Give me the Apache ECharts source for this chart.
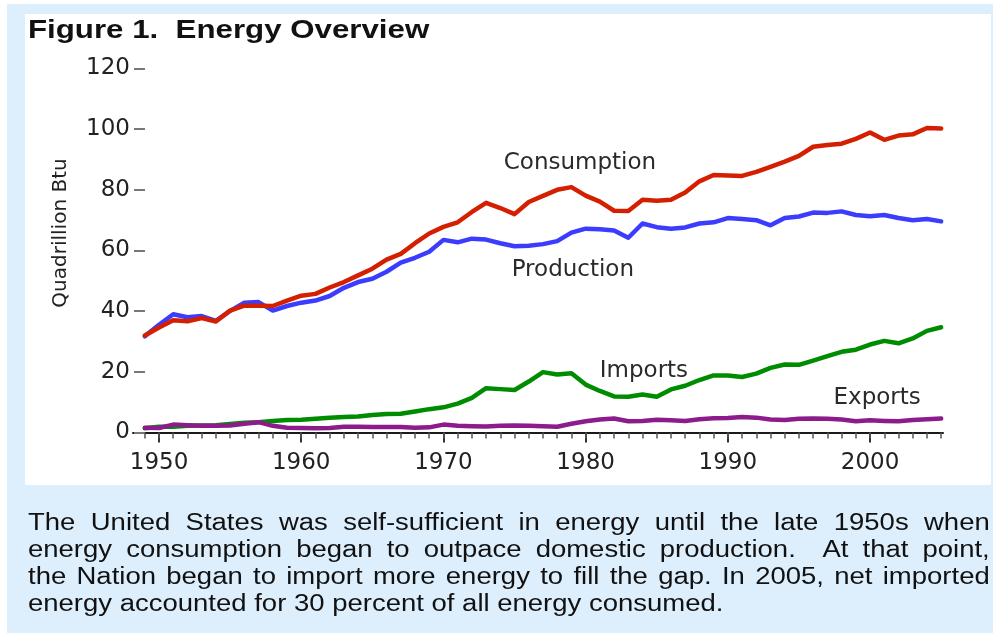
<!DOCTYPE html>
<html>
<head>
<meta charset="utf-8">
<script src="https://cdn.jsdelivr.net/npm/echarts@6/dist/echarts.min.js"></script>
<style>
  html, body { margin: 0; padding: 0; background: #ffffff; }
  #wrap { position: relative; width: 993px; height: 633px; overflow: hidden; background: #ffffff; }
  #panel { position: absolute; left: 7px; top: 4px; width: 986px; height: 629px; background: #ddeefc; }
  #inner { position: absolute; left: 25px; top: 14px; width: 966px; height: 471px; background: #ffffff; }
  #chart { position: absolute; left: 0; top: 0; width: 993px; height: 633px; }
  #caption { position: absolute; left: 28px; top: 509px; width: 822px;
    transform: scaleX(1.17); transform-origin: 0 0;
    font-family: "Liberation Sans", Arial, sans-serif; font-size: 23.5px; line-height: 27px; color: #111; }
  #caption div { text-align: justify; text-align-last: justify; white-space: nowrap; }
  #caption div.last { text-align: left; text-align-last: left; }
</style>
</head>
<body>
<div id="wrap">
  <div id="panel"></div>
  <div id="inner"></div>
  <div id="chart"></div>
  <div id="caption">
    <div>The United States was self-sufficient in energy until the late 1950s when</div>
    <div>energy consumption began to outpace domestic production.&nbsp; At that point,</div>
    <div>the Nation began to import more energy to fill the gap. In 2005, net imported</div>
    <div class="last">energy accounted for 30 percent of all energy consumed.</div>
  </div>
</div>
<script>
const years = [1949,1950,1951,1952,1953,1954,1955,1956,1957,1958,1959,
  1960,1961,1962,1963,1964,1965,1966,1967,1968,1969,
  1970,1971,1972,1973,1974,1975,1976,1977,1978,1979,
  1980,1981,1982,1983,1984,1985,1986,1987,1988,1989,
  1990,1991,1992,1993,1994,1995,1996,1997,1998,1999,
  2000,2001,2002,2003,2004,2005];

const production = [31.7,35.5,39.0,38.0,38.4,36.8,40.1,42.8,43.0,40.2,41.7,
  42.8,43.5,45.0,47.7,49.6,50.7,53.0,56.0,57.6,59.6,
  63.5,62.7,63.9,63.6,62.4,61.4,61.6,62.1,63.1,65.9,
  67.2,67.0,66.6,64.2,68.9,67.7,67.2,67.6,68.9,69.3,
  70.7,70.4,70.0,68.3,70.7,71.2,72.5,72.4,72.9,71.7,
  71.3,71.7,70.7,70.0,70.4,69.6];

const consumption = [32.0,34.6,37.0,36.7,37.7,36.6,40.2,41.8,41.8,41.7,43.5,
  45.1,45.7,47.8,49.6,51.8,54.0,57.0,58.9,62.4,65.6,
  67.8,69.3,72.7,75.7,74.0,72.0,76.0,78.0,80.0,80.9,
  78.1,76.1,73.1,73.0,76.7,76.4,76.7,79.1,82.8,84.9,
  84.7,84.6,85.9,87.6,89.3,91.2,94.2,94.8,95.2,96.8,
  98.9,96.5,97.9,98.3,100.4,100.2];

const imports = [1.4,1.9,1.9,2.2,2.3,2.4,2.8,3.2,3.4,3.8,4.1,
  4.2,4.5,4.9,5.1,5.3,5.8,6.1,6.2,6.9,7.7,
  8.3,9.5,11.4,14.6,14.3,14.0,16.8,19.9,19.1,19.5,
  15.8,13.7,11.9,11.8,12.5,11.8,14.2,15.4,17.3,18.8,
  18.8,18.3,19.4,21.3,22.4,22.3,23.7,25.2,26.6,27.3,
  29.0,30.2,29.4,31.0,33.5,34.7];

const exportsVals = [1.6,1.5,2.6,2.4,2.2,2.2,2.3,2.9,3.4,2.2,1.6,
  1.5,1.4,1.5,1.9,1.9,1.8,1.8,1.8,1.6,1.7,
  2.6,2.2,2.1,2.0,2.2,2.3,2.2,2.1,1.9,2.9,
  3.7,4.3,4.6,3.7,3.8,4.2,4.0,3.8,4.4,4.7,
  4.8,5.1,4.9,4.3,4.1,4.5,4.6,4.5,4.3,3.7,
  4.0,3.8,3.7,4.1,4.4,4.6];

const decadeTicks = [1950,1960,1970,1980,1990,2000];
const yTicks = [0,20,40,60,80,100,120];

const seriesNames = ['Production','Consumption','Imports','Exports'];
const seriesColors = ['#3c3cff','#d42000','#008c00','#8c1c8c'];
const seriesData = [production, consumption, imports, exportsVals];
// annotation anchors in data space [year, value]
const labelAnchors = [[1979.1, 53.5],[1979.6, 89.0],[1984.1, 20.2],[2000.5, 11.3]];

const chart = echarts.init(document.getElementById('chart'), null, {renderer: 'canvas'});
const font = '"DejaVu Sans", Verdana, sans-serif';
const gridRect = {left: 133, right: 50, top: 68.5, height: 364};

const series = seriesData.map((vals, i) => ({
  type: 'line',
  name: seriesNames[i],
  xAxisIndex: 0, yAxisIndex: 0,
  data: years.map((y, k) => [y, vals[k]]),
  symbol: 'none',
  smooth: false,
  lineStyle: {color: seriesColors[i], width: 4.5, cap: 'round', join: 'round'},
  itemStyle: {color: seriesColors[i]},
  z: 3 + i,
  silent: true,
  markPoint: {
    symbol: 'circle', symbolSize: 1,
    itemStyle: {color: 'rgba(0,0,0,0)'},
    label: {show: true, position: 'inside', formatter: seriesNames[i],
      fontFamily: font, fontSize: 23, color: '#2a2a2a'},
    data: [{coord: labelAnchors[i]}]
  }
}));

chart.setOption({
  animation: false,
  backgroundColor: 'transparent',
  grid: [
    Object.assign({}, gridRect),
    Object.assign({}, gridRect)
  ],
  xAxis: [
    {
      type: 'value', gridIndex: 0, min: 1948.17, max: 2005.13,
      splitLine: {show: false},
      axisLine: {show: true, lineStyle: {color: '#1a1a1a', width: 2}},
      axisTick: {show: true, customValues: decadeTicks, length: 10, lineStyle: {color: '#333', width: 2}},
      axisLabel: {show: true, customValues: decadeTicks, fontFamily: font, fontSize: 23, color: '#222', margin: 19,
        formatter: v => String(Math.round(v))}
    },
    {
      type: 'value', gridIndex: 1, min: 1948.17, max: 2005.13,
      splitLine: {show: false},
      axisLine: {show: false},
      axisTick: {show: true, customValues: years, length: 6, lineStyle: {color: '#555', width: 1.5}},
      axisLabel: {show: false}
    }
  ],
  yAxis: [
    {
      type: 'value', gridIndex: 0, min: 0, max: 120, interval: 20, offset: -12,
      splitLine: {show: false},
      axisLine: {show: false},
      axisTick: {show: true, length: 11, lineStyle: {color: '#777', width: 2}},
      axisLabel: {fontFamily: font, fontSize: 23, color: '#222', margin: 15}
    },
    {
      type: 'value', gridIndex: 1, min: 0, max: 120, show: false
    }
  ],
  graphic: [
    {type: 'text', x: 28, y: 31, scaleX: 1.25,
      style: {text: 'Figure 1.  Energy Overview', x: 0, y: 0,
        font: 'bold 25px "Liberation Sans", Arial, sans-serif', fill: '#111', verticalAlign: 'middle'}},
    {type: 'text', x: 61, y: 233, rotation: Math.PI / 2,
      style: {text: 'Quadrillion Btu', font: '20px "DejaVu Sans", Verdana, sans-serif',
        fill: '#222', align: 'center', verticalAlign: 'middle'}}
  ],
  series: series
});
</script>
</body>
</html>
